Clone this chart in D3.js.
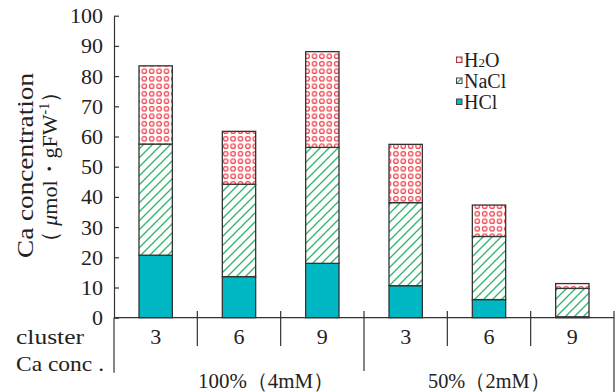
<!DOCTYPE html>
<html>
<head>
<meta charset="utf-8">
<script src="https://cdn.jsdelivr.net/npm/d3@7"></script>
<style>
  html, body { margin: 0; padding: 0; background: #fff; }
  svg { display: block; }
  svg text { font-family: "DejaVu Serif", "Liberation Serif", "Times New Roman", "Noto Sans CJK JP", serif; fill: #222; }
</style>
</head>
<body>
<svg id="chart" width="616" height="392"></svg>
<script>
// Cluster labels along the x axis, and the two Ca concentration groups
const clusters = ["3", "6", "9", "3", "6", "9"];
const groupLabels = ["100%（4mM）", "50%（2mM）"];

// Ca concentration (µmol·gFW-1) by extraction fraction
const hclValues  = [20.7, 13.6, 18.0, 10.6, 6.0, 0.3];
const naclValues = [36.8, 30.6, 38.4, 27.5, 20.9, 9.4];
const h2oValues  = [25.9, 17.5, 31.7, 19.3, 10.4, 1.6];

const seriesKeys = ["HCl", "NaCl", "H2O"];
const yTicks = [0, 10, 20, 30, 40, 50, 60, 70, 80, 90, 100];

const rows = clusters.map((c, i) => ({
  idx: i, cluster: c, HCl: hclValues[i], NaCl: naclValues[i], H2O: h2oValues[i]
}));

const serif = "'Liberation Serif', 'Times New Roman', 'DejaVu Serif', serif";

const svg = d3.select("#chart");
const x0 = 114, x1 = 614, yBase = 317.7, yTop = 15.7;

const x = d3.scaleBand()
  .domain(rows.map(d => d.idx))
  .range([x0, x1])
  .paddingInner(0.6)
  .paddingOuter(0.3);

const y = d3.scaleLinear().domain([0, 100]).range([yBase, yTop]);

// Fill patterns
const defs = svg.append("defs");
const dots = defs.append("pattern")
  .attr("id", "dots").attr("patternUnits", "userSpaceOnUse")
  .attr("width", 7.4).attr("height", 7.5);
dots.append("rect").attr("width", 7.4).attr("height", 7.5).attr("fill", "#fff");
dots.append("circle").attr("cx", 3.7).attr("cy", 3.75).attr("r", 2.3)
  .attr("fill", "none").attr("stroke", "#f0404a").attr("stroke-width", 1.2);

const stripes = defs.append("pattern")
  .attr("id", "stripes").attr("patternUnits", "userSpaceOnUse")
  .attr("width", 9).attr("height", 9);
stripes.append("rect").attr("width", 9).attr("height", 9).attr("fill", "#fff");
stripes.append("path")
  .attr("d", "M-2,2 L2,-2 M0,9 L9,0 M7,11 L11,7")
  .attr("stroke", "#2fb46c").attr("stroke-width", 1.3);

const fills = { HCl: "#00b8c4", NaCl: "url(#stripes)", H2O: "url(#dots)" };

// Stacked bars
const stacked = d3.stack().keys(seriesKeys)(rows);
const barW = x.bandwidth();
svg.append("g").selectAll("g")
  .data(stacked)
  .join("g")
  .attr("fill", d => fills[d.key])
  .selectAll("rect")
  .data(d => d)
  .join("rect")
  .attr("x", d => x(d.data.idx))
  .attr("y", d => y(d[1]))
  .attr("width", barW)
  .attr("height", d => Math.max(0, y(d[0]) - y(d[1])))
  .attr("stroke", "#333")
  .attr("stroke-width", 1.3);

// Y axis with inward ticks
const yAxis = svg.append("g")
  .attr("transform", `translate(${x0},0)`)
  .call(d3.axisLeft(y).tickValues(yTicks).tickSize(-5).tickSizeOuter(0).tickPadding(11).tickFormat(d3.format("d")));
yAxis.attr("font-family", null);
yAxis.select(".domain").attr("stroke", "#333").attr("stroke-width", 1.2);
yAxis.selectAll(".tick line").attr("stroke", "#333").attr("stroke-width", 1.2);
yAxis.selectAll(".tick text")
  .style("font-family", serif)
  .attr("font-size", 22).attr("fill", "#222");

// X baseline and the label table below it
const lines = svg.append("g").attr("stroke", "#333").attr("stroke-width", 1.2);
lines.append("line").attr("x1", x0).attr("x2", x1).attr("y1", yBase).attr("y2", yBase);
lines.append("line").attr("x1", x0).attr("x2", x0).attr("y1", yBase).attr("y2", 372.7);
d3.range(1, clusters.length).forEach(i => {
  const sx = x0 + i * (x1 - x0) / clusters.length;
  lines.append("line").attr("x1", sx).attr("x2", sx)
    .attr("y1", 311).attr("y2", i === 3 ? 371 : 346);
});
lines.append("line").attr("x1", x1).attr("x2", x1).attr("y1", 311).attr("y2", 392);

const labels = svg.append("g").style("font-family", serif);
labels.selectAll("text.cl")
  .data(rows)
  .join("text")
  .attr("class", "cl")
  .attr("x", d => x(d.idx) + barW / 2)
  .attr("y", 344)
  .attr("text-anchor", "middle")
  .attr("font-size", 22)
  .style("font-family", serif)
  .text(d => d.cluster);

labels.append("text").attr("x", 16).attr("y", 344).attr("font-size", 22)
  .style("font-family", serif)
  .attr("textLength", 68).attr("lengthAdjust", "spacingAndGlyphs").text("cluster");
labels.append("text").attr("x", 16).attr("y", 371).attr("font-size", 22)
  .style("font-family", serif)
  .attr("textLength", 88).attr("lengthAdjust", "spacingAndGlyphs").text("Ca conc .");

const groupX = [198, 428], groupW = [136, 122];
labels.selectAll("text.grp")
  .data(groupLabels)
  .join("text")
  .attr("class", "grp")
  .attr("x", (d, i) => groupX[i])
  .attr("y", 388)
  .attr("font-size", 21)
  .style("font-family", serif)
  .attr("textLength", (d, i) => groupW[i])
  .attr("lengthAdjust", "spacingAndGlyphs")
  .text(d => d);

// Y axis title
const title = svg.append("g").attr("font-size", 24);
title.append("text")
  .attr("transform", "translate(33,165.5) rotate(-90)")
  .attr("text-anchor", "middle")
  .style("font-family", serif)
  .attr("textLength", 185).attr("lengthAdjust", "spacingAndGlyphs")
  .text("Ca concentration");
const t2 = title.append("text")
  .attr("transform", "translate(57,167) rotate(-90)")
  .attr("text-anchor", "middle")
  .style("font-family", serif)
  .attr("font-size", 22);
t2.append("tspan").text("（ ");
t2.append("tspan").attr("font-style", "italic").text("μ");
t2.append("tspan").text("mol・gFW");
t2.append("tspan").attr("font-size", 14).attr("dy", -8).text("-1");
t2.append("tspan").attr("dy", 8).text("）");

// Legend
const legendItems = [
  { key: "H2O", y: 60 },
  { key: "NaCl", y: 81 },
  { key: "HCl", y: 102 }
];
const legend = svg.append("g");
legendItems.forEach(item => {
  legend.append("rect")
    .attr("x", 456.5).attr("y", item.y - 3)
    .attr("width", 5.5).attr("height", 5.5)
    .attr("fill", fills[item.key])
    .attr("stroke", item.key === "H2O" ? "#a33" : "#444")
    .attr("stroke-width", 1);
  const t = legend.append("text")
    .attr("x", 464).attr("y", item.y + 7)
    .attr("font-size", 20)
    .style("font-family", serif);
  if (item.key === "H2O") {
    t.append("tspan").text("H");
    t.append("tspan").attr("font-size", 13).text("2");
    t.append("tspan").text("O");
  } else {
    t.text(item.key);
  }
});
</script>
</body>
</html>
